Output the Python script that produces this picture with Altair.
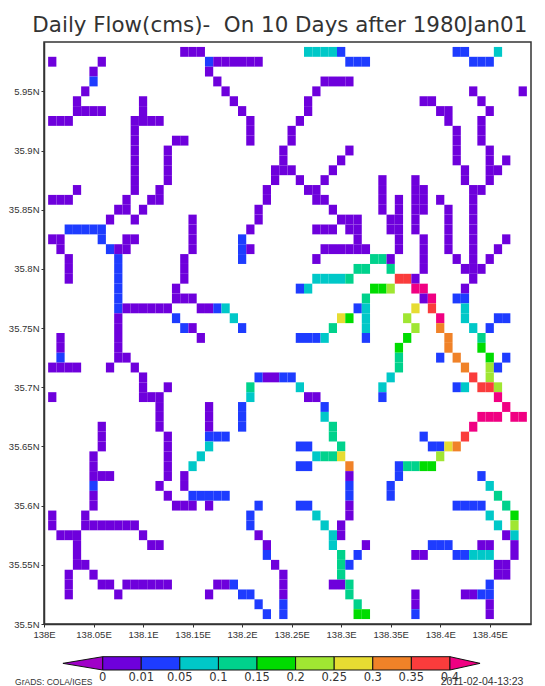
import altair as alt
import pandas as pd

TITLE = "Daily Flow(cms)-\u00a0\u00a0On 10 Days after 1980Jan01"
LEVELS = ["P", "B", "C", "T", "G", "L", "Y", "O", "R", "M"]
COLORS = ["#6e00dc", "#1e3cff", "#00c8c8", "#00d28c", "#00dc00", "#a0e632",
          "#e6dc32", "#f08228", "#fa3c3c", "#f00082"]
LOW_COLOR = "#a000c8"
BAR_LABELS = ["0", "0.01", "0.05", "0.1", "0.15", "0.2", "0.25", "0.3", "0.35", "0.4"]
X_TICKS = [138, 138.05, 138.1, 138.15, 138.2, 138.25, 138.3, 138.35, 138.4, 138.45]
Y_TICKS = [35.5, 35.55, 35.6, 35.65, 35.7, 35.75, 35.8, 35.85, 35.9, 35.95]

# grid row (north to south) : runs of grid columns (west to east) with flow class
ROWS = [
 "16-18P 31-34C 35B 49-50B 54C",
 "0P 6P 19B 20-25P 36-38B 51-53B",
 "5P 19P",
 "5B 20P 33-36P",
 "4P 21P 32P 51P 57P",
 "3P 11P 22P 31P 45-46P 52P",
 "3-6P 11P 23P 31P 47-48P 53P",
 "0-2P 10-13P 24P 30P 48P 52P",
 "10P 24P 29P 49P 52P",
 "10P 15-16P 24P 29P 49P 52P",
 "10P 14P 28P 36P 49P 53P",
 "10P 14P 28P 35P 49P 53P 55P",
 "10P 14P 27-29P 34P 50P 53-54P",
 "10P 14P 27P 30P 33P 40P 44P 50P 53P",
 "3P 10P 13P 26P 31-32P 40P 44-45P 51-52P",
 "0-2P 9P 12-13P 26P 32-33P 40P 42P 44-45P 47P 51P",
 "8-9P 11P 25P 34P 40P 42P 44-45P 48P 51P",
 "7P 10P 17P 25P 35-37P 41-42P 44P 48P 51P",
 "2-6B 17P 24P 32-34P 36-37P 41-42P 44P 48P 51P",
 "0-1P 6B 9-10P 17P 23B 37P 42P 45P 48P 51P 55P",
 "1P 7B 8-9P 17P 23B 24P 33-38P 42P 45P 48P 51P 54P",
 "2P 8B 16P 23B 32P 39-40T 41P 45P 49P 51P 53P",
 "2P 8B 16P 37-38T 41T 45P 50-52P",
 "2P 8B 16P 32-35C 36T 42-43R 44P 51P",
 "8B 15P 30B 31C 39-40G 41L 44-45M 50P",
 "8B 15-17P 38T 45P 46M 49-50B",
 "8B 9-14P 18-19P 20B 21C 37B 38C 44Y 46R 50C",
 "8P 15B 22C 35Y 36G 38C 43L 47M 50C 54-55B",
 "8P 16B 17P 23B 34T 38C 44L 47O 51C 53B",
 "1P 8P 18P 30-32B 33C 38B 43G 48O 52T",
 "1P 8P 42G 48O 52G",
 "1B 8-9P 42T 47B 49O 53G 55B",
 "0-3P 7P 10P 42T 50O 53L 54B",
 "11P 25B 26-27P 28-29B 41C 51R 53L",
 "11P 14P 24T 30C 40C 49B 50C 52-53R 54L",
 "0P 11-13P 24C 31-32P 40B 54M",
 "13P 19P 23B 33B 55M",
 "13P 19P 23B 33C 52-54M 56-57M",
 "6P 13P 19P 23B 34T 51M",
 "6P 14P 19-21B 34T 45B 50R",
 "6P 14P 19C 30-31B 35T 46-47B 48Y 49O",
 "5P 14P 18C 32C 33-34T 35Y 47L",
 "5P 14P 17C 30-31B 36O 42B 43-44T 45-46G",
 "5-7P 14P 16P 36P 42B 52B",
 "5B 13P 16P 36B 41B 53C",
 "5P 14P 17-21B 36B 41B 54T",
 "5P 15-17P 19P 25B 30-31B 36P 49-52B 55T",
 "0P 4P 24B 32C 36P 53C 56G",
 "0P 4-10P 24B 33C 35P 54C 56L",
 "1-3P 11P 25P 34C 35P 55P 56C",
 "3P 12-13P 26P 34C 38P 46-48B 52-53P 56P",
 "3P 26B 35T 37B 44-45P 49-50B 51-53C 56P",
 "3-4P 27P 35T 36B 54-55P",
 "2P 5P 28P 35T 54-55P",
 "2P 6-7P 9-14P 20-21P 22B 28P 34-35P 36T 53B",
 "2P 8P 19P 23-24B 28P 36T 44P 50-51P 52-53B",
 "25B 28B 37T 44P 53P",
 "26B 28B 37-38G 44B 53P",
]

STEP = 1 / 120
records = []
for k, row in enumerate(ROWS):
    lat = 35.5 + (len(ROWS) - k) * STEP
    for token in row.split():
        level = token[-1]
        parts = token[:-1].split("-")
        for c in range(int(parts[0]), int(parts[-1]) + 1):
            lon = 138 + (c + 1) * STEP
            records.append(dict(lon0=lon - STEP / 2, lon1=lon + STEP / 2,
                                lat0=lat - STEP / 2, lat1=lat + STEP / 2, level=level))
cells = pd.DataFrame(records)

FONT = "Liberation Sans"
x_axis = alt.Axis(values=X_TICKS, title=None, grid=False, labelFontSize=9.5, labelColor="#333333",
                  labelFont=FONT, tickSize=3, tickColor="#333333", domainColor="#333333", domainWidth=1.5,
                  labelPadding=2, labelFlush=False, labelOverlap=False,
                  labelExpr="format(datum.value,'.2~f')+'E'")
y_axis = alt.Axis(values=Y_TICKS, title=None, grid=False, labelFontSize=9.5, labelColor="#333333",
                  labelFont=FONT, tickSize=3, tickColor="#333333", domainColor="#333333", domainWidth=1.5,
                  labelPadding=2, labelOverlap=False,
                  labelExpr="replace(format(datum.value,'.2~f')+'N','35.95N','5.95N')")

colour = alt.Color("level:N", scale=alt.Scale(domain=LEVELS, range=COLORS), legend=None)

main = alt.Chart(cells).mark_rect(strokeWidth=0).encode(
    x=alt.X("lon0:Q", scale=alt.Scale(domain=[138, 138 + 59 * STEP], nice=False, zero=False), axis=x_axis),
    x2="lon1:Q",
    y=alt.Y("lat0:Q", scale=alt.Scale(domain=[35.5, 35.5 + 59 * STEP], nice=False, zero=False), axis=y_axis),
    y2="lat1:Q",
    color=colour,
)

# colour bar and footer: index along the bar, distance under the plot's lower edge
bx = alt.Scale(domain=[-1.52, 11.1], nice=False, zero=False)
by = alt.Scale(domain=[0, 582], nice=False, zero=False)
BAR_TOP, BAR_BOTTOM, BAR_MID = -32.7, -46, -39.35

segs = pd.DataFrame(dict(i0=list(range(9)), i1=list(range(1, 10)), level=LEVELS[:9],
                         b0=[BAR_TOP] * 9, b1=[BAR_BOTTOM] * 9))
bar = alt.Chart(segs).mark_rect(stroke="#111111", strokeWidth=1, clip=False).encode(
    x=alt.X("i0:Q", scale=bx, axis=None), x2="i1:Q",
    y=alt.Y("b0:Q", scale=by, axis=None), y2="b1:Q",
    color=colour,
)


def tri(xs, colour_value):
    d = pd.DataFrame(dict(i=xs, lo=[BAR_MID, BAR_TOP], hi=[BAR_MID, BAR_BOTTOM]))
    return alt.Chart(d).mark_area(color=colour_value, stroke="#111111", strokeWidth=1, clip=False).encode(
        x=alt.X("i:Q", scale=bx, axis=None),
        y=alt.Y("lo:Q", scale=by, axis=None), y2="hi:Q")


left = tri([-1.03, 0], LOW_COLOR)
right = tri([9.78, 9], COLORS[9])
labs = pd.DataFrame(dict(i=list(range(10)), t=BAR_LABELS, y=[-53.7] * 10))
labels = alt.Chart(labs).mark_text(font="DejaVu Sans", fontSize=11.5, color="#333333", baseline="middle").encode(
    x=alt.X("i:Q", scale=bx, axis=None), y=alt.Y("y:Q", scale=by, axis=None), text="t:N")


def foot(i, text, size):
    d = pd.DataFrame(dict(i=[i], t=[text], y=[-58]))
    return alt.Chart(d).mark_text(font="Liberation Sans", fontSize=size, color="#333333",
                                  align="left", baseline="middle").encode(
        x=alt.X("i:Q", scale=bx, axis=None), y=alt.Y("y:Q", scale=by, axis=None), text="t:N")


chart = alt.layer(main, bar, left, right, labels,
                  foot(-2.27, "GrADS: COLA/IGES", 8.5), foot(8.76, "2011-02-04-13:23", 10.5)).resolve_scale(
    x="independent", y="independent"
).properties(
    width=487, height=582,
    title=alt.TitleParams(TITLE, font="DejaVu Sans", fontSize=21.4, fontWeight="normal", color="#333333",
                          anchor="start", offset=6, dx=24),
    autosize=alt.AutoSizeParams(type="none"),
    padding={"left": 36, "top": 34, "right": 6, "bottom": 62},
    background="white",
).configure_view(stroke="#333333", strokeWidth=1.5)

chart.save("out.html", embed_options={"renderer": "svg", "actions": False})
